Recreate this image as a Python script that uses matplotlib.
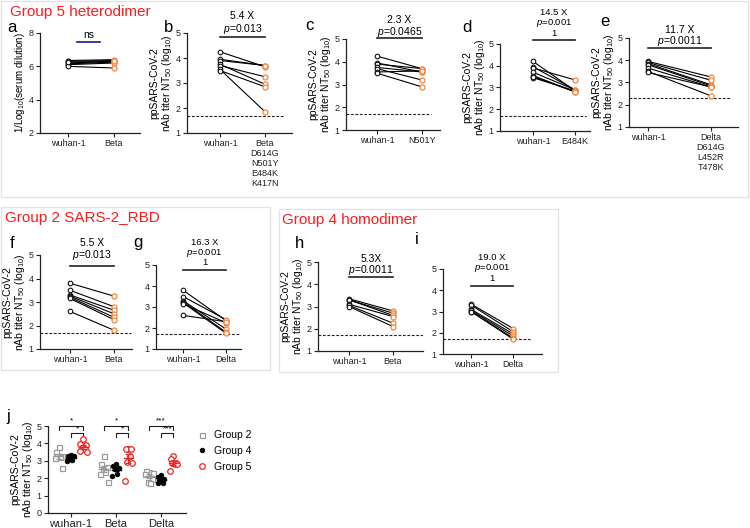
import numpy as np
import matplotlib
matplotlib.use("Agg")
import matplotlib.pyplot as plt
from matplotlib.patches import Rectangle
from matplotlib.lines import Line2D
from matplotlib.transforms import blended_transform_factory

plt.rcParams['font.family'] = ['Liberation Sans', 'DejaVu Sans']
plt.rcParams['mathtext.fontset'] = 'custom'
plt.rcParams['mathtext.rm'] = 'Liberation Sans'
plt.rcParams['mathtext.it'] = 'Liberation Sans:italic'

# ---------------- data ----------------
a_wuhan = [6.35, 6.3, 6.2, 6.15, 6.1, 6.0, 6.25]
a_beta = [6.4, 6.35, 6.3, 6.25, 6.2, 5.9, 6.3]

b_wuhan = [4.25, 3.95, 3.9, 3.75, 3.7, 3.55, 3.5]
b_beta = [3.65, 3.7, 3.7, 2.95, 3.25, 1.85, 2.85]

c_wuhan = [4.25, 3.95, 3.9, 3.75, 3.7, 3.55, 3.5]
c_n501y = [3.7, 3.55, 3.7, 3.55, 3.2, 3.6, 2.9]

d_wuhan = [4.2, 3.95, 3.9, 3.7, 3.55, 3.45, 3.5]
d_e484k = [2.85, 2.9, 3.35, 2.9, 2.8, 2.85, 2.8]

e_wuhan = [3.95, 3.9, 3.85, 3.8, 3.65, 3.5, 3.45]
e_delta = [3.25, 3.1, 2.9, 2.85, 2.8, 2.4, 2.8]

f_wuhan = [3.8, 3.5, 3.3, 3.25, 3.2, 3.15, 2.6]
f_beta = [3.25, 2.8, 2.65, 2.5, 2.35, 2.25, 1.8]

g_wuhan = [3.8, 3.5, 3.3, 3.25, 3.2, 3.15, 2.6]
g_delta = [2.35, 2.4, 1.95, 1.8, 1.75, 2.25, 2.3]

h_wuhan = [3.35, 3.3, 3.3, 3.1, 3.05, 3.0]
h_beta = [2.8, 2.7, 2.6, 2.55, 2.25, 2.1]

i_wuhan = [3.35, 3.3, 3.1, 3.05, 3.0, 3.0]
i_delta = [2.2, 2.05, 1.95, 1.85, 1.75, 1.7]

fold_labels = {'b': '5.4 X', 'c': '2.3 X', 'd': '14.5 X', 'e': '11.7 X',
               'f': '5.5 X', 'g': '16.3 X', 'h': '5.3X', 'i': '19.0 X'}
p_labels = {'b': '0.013', 'c': '0.0465', 'd': '0.001', 'e': '0.0011',
            'f': '0.013', 'g': '0.001', 'h': '0.0011', 'i': '0.001'}

j_categories = ['wuhan-1', 'Beta', 'Delta']
j_group2 = [f_wuhan, f_beta, g_delta]
j_group4 = [h_wuhan, h_beta, i_delta]
j_group5 = [b_wuhan, b_beta, e_delta]
j_sig_outer = ['*', '*', '***']
j_sig_inner = ['*', '*', '***']
j_legend = ['Group 2', 'Group 4', 'Group 5']

detection_limit = 1.7
detection_limit_e = 2.3

# ---------------- layout ----------------
W, H = 750, 528
fig = plt.figure(figsize=(W / 100, H / 100), dpi=100)

ORANGE = '#f4863a'
AXC = '#222222'


def axpos(x0, x1, ytop, ybot):
    return [x0 / W, 1 - ybot / H, (x1 - x0) / W, (ybot - ytop) / H]


def fx(x):
    return x / W


def fy(y):
    return 1 - y / H


# group boxes
for (x0, y0, x1, y1) in [(1, 1, 748, 197), (1, 207, 270, 370), (279, 209, 558, 372)]:
    fig.add_artist(Rectangle((fx(x0), fy(y1)), fx(x1 - x0), (y1 - y0) / H,
                             transform=fig.transFigure, fill=False,
                             edgecolor='#e2e2e2', lw=0.9))

fig.text(fx(10), fy(12), 'Group 5 heterodimer', color='#ff1a1a', fontsize=11,
         ha='left', va='center')
fig.text(fx(5), fy(218), 'Group 2 SARS-2_RBD', color='#ff1a1a', fontsize=11,
         ha='left', va='center')
fig.text(fx(282), fy(220), 'Group 4 homodimer', color='#ff1a1a', fontsize=11,
         ha='left', va='center')

YLAB = 'ppSARS-CoV-2\nnAb titer NT$_{50}$ (log$_{10}$)'


def style_ax(ax):
    for s in ['top', 'right']:
        ax.spines[s].set_visible(False)
    for s in ['left', 'bottom']:
        ax.spines[s].set_color(AXC)
        ax.spines[s].set_linewidth(0.9)
    ax.tick_params(axis='both', length=3, width=0.8, colors=AXC, labelsize=6.5, pad=1.5)
    ax.patch.set_alpha(0)


def paired_panel(key, pos, xlim, cats, wuhan, variant, ylim=(1, 5),
                 yticks=(1, 2, 3, 4, 5), ylabel=YLAB, dl=detection_limit,
                 letter_xy=None, fold_y=None, extra_one=False, var_color=ORANGE,
                 ann=True, dl_xmax=0.92, ylabel_fs=7.5):
    ax = fig.add_axes(axpos(*pos))
    style_ax(ax)
    for w, v in zip(wuhan, variant):
        ax.plot([0, 1], [w, v], color='black', lw=0.8, zorder=2)
    ax.plot(np.zeros(len(wuhan)), wuhan, 'o', mfc='white', mec='#111111', ms=3.3,
            mew=0.8, zorder=3, clip_on=False)
    ax.plot(np.ones(len(variant)), variant, 'o', mfc='white', mec=var_color, ms=3.6,
            mew=0.9, zorder=3, clip_on=False)
    if dl is not None:
        ax.axhline(dl, xmin=0, xmax=dl_xmax, color='#222222', lw=0.8, ls=(0, (2.5, 1.5)))
    ax.set_xlim(*xlim)
    ax.set_ylim(*ylim)
    ax.set_yticks(list(yticks))
    ax.set_xticks([0, 1])
    ax.set_xticklabels(cats, fontsize=6.5, linespacing=1.15)
    if ylabel:
        ax.set_ylabel(ylabel, fontsize=ylabel_fs, labelpad=1.5, linespacing=1.0)
    if letter_xy:
        fig.text(fx(letter_xy[0]), fy(letter_xy[1]), key, fontsize=12, ha='center', va='center')
    if ann and fold_y is not None:
        tr = blended_transform_factory(ax.transData, fig.transFigure)
        y_fold, y_p, y_bar = fold_y[:3]
        fs = 6.8 if extra_one else 7.5
        ax.text(0.5, fy(y_fold), fold_labels[key], transform=tr, ha='center', va='center', fontsize=fs)
        ax.text(0.5, fy(y_p), '$\\it{p}$=' + p_labels[key], transform=tr, ha='center', va='center', fontsize=fs)
        if extra_one:
            ax.text(0.5, fy(fold_y[3]), '1', transform=tr, ha='center', va='center', fontsize=fs)
        ax.add_line(Line2D([0, 1], [fy(y_bar)] * 2, transform=tr, color='#222222', lw=1.2, clip_on=False))
    return ax


# panel a
ax_a = paired_panel('a', (40, 140, 33, 133), (-0.61, 1.57), ['wuhan-1', 'Beta'],
                    a_wuhan, a_beta, ylim=(2, 8), yticks=(2, 4, 6, 8),
                    ylabel='1/Log$_{10}$(serum dilution)', dl=None, letter_xy=(12, 27),
                    ann=False, ylabel_fs=7)
tr = blended_transform_factory(ax_a.transData, fig.transFigure)
ax_a.add_line(Line2D([0.2, 0.7], [fy(42)] * 2, transform=tr, color='#1a1a8c', lw=1.2, clip_on=False))
ax_a.text(0.45, fy(35), 'ns', transform=tr, ha='center', va='center', fontsize=7.5)

paired_panel('b', (187, 292, 33, 133), (-0.73, 1.6),
             ['wuhan-1', 'Beta\nD614G\nN501Y\nE484K\nK417N'],
             b_wuhan, b_beta, letter_xy=(169, 27), fold_y=(16, 29, 37), dl_xmax=0.92)
paired_panel('c', (346, 440, 39, 130), (-0.69, 1.41), ['wuhan-1', 'N501Y'],
             c_wuhan, c_n501y, letter_xy=(309, 26), fold_y=(20, 32, 38), dl_xmax=0.9)
paired_panel('d', (500, 590, 44, 131), (-0.79, 1.36), ['wuhan-1', 'E484K'],
             d_wuhan, d_e484k, letter_xy=(467, 27), fold_y=(12.5, 23, 40, 33), extra_one=True,
             dl_xmax=0.95)
paired_panel('e', (629, 738, 38, 127), (-0.3, 1.43),
             ['wuhan-1', 'Delta\nD614G\nL452R\nT478K'],
             e_wuhan, e_delta, dl=detection_limit_e, letter_xy=(605, 22), fold_y=(30, 41, 48),
             dl_xmax=0.93)

paired_panel('f', (40, 132, 255, 349), (-0.68, 1.41), ['wuhan-1', 'Beta'],
             f_wuhan, f_beta, letter_xy=(12, 243), fold_y=(243, 255, 266), dl_xmax=0.99)
paired_panel('g', (156, 241, 265, 349), (-0.63, 1.35), ['wuhan-1', 'Delta'],
             g_wuhan, g_delta, ylabel=None, letter_xy=(138, 243), fold_y=(242.5, 253, 270, 262.5),
             extra_one=True, dl_xmax=1.0)
paired_panel('h', (318, 423, 262, 351), (-0.7, 1.68), ['wuhan-1', 'Beta'],
             h_wuhan, h_beta, letter_xy=(300, 243), fold_y=(259, 270, 277), dl_xmax=1.0)
paired_panel('i', (443, 542, 269, 354), (-0.67, 1.69), ['wuhan-1', 'Delta'],
             i_wuhan, i_delta, ylabel=None, letter_xy=(417, 240), fold_y=(257, 268, 286, 278.5),
             extra_one=True, dl_xmax=0.88)

# ---------------- panel j ----------------
axj = fig.add_axes(axpos(48, 186, 426, 513))
style_ax(axj)
axj.set_ylim(0, 5)
axj.set_yticks([0, 1, 2, 3, 4, 5])
axj.set_xlim(-0.51, 2.55)
axj.set_xticks(range(len(j_categories)))
axj.set_xticklabels(j_categories, fontsize=8)
axj.tick_params(axis='x', length=3, labelsize=8)
axj.set_ylabel(YLAB, fontsize=7.5, labelpad=1.5, linespacing=1.0)
fig.text(fx(8), fy(417), 'j', fontsize=12, ha='center', va='center')

group_styles = [
    dict(marker='s', mfc='white', mec='#9a9a9a', ms=3.6, mew=0.9, ecol='#9a9a9a'),
    dict(marker='o', mfc='black', mec='black', ms=3.3, mew=0.6, ecol='black'),
    dict(marker='o', mfc='white', mec='#ee2222', ms=4.0, mew=0.9, ecol='#ee2222'),
]
offsets = [-0.27, 0.0, 0.27]
jit_pattern = np.array([0.0, -0.06, 0.06, -0.03, 0.03, -0.08, 0.08])
for gi, (gdata, st) in enumerate(zip([j_group2, j_group4, j_group5], group_styles)):
    for ci, vals in enumerate(gdata):
        vals = np.asarray(vals)
        xc = ci + offsets[gi]
        xs = xc + jit_pattern[:len(vals)]
        axj.plot(xs, vals, linestyle='none', marker=st['marker'], mfc=st['mfc'],
                 mec=st['mec'], ms=st['ms'], mew=st['mew'], zorder=3)
        m = vals.mean()
        sem = vals.std(ddof=1) / np.sqrt(len(vals))
        axj.plot([xc - 0.1, xc + 0.1], [m, m], color=st['ecol'], lw=1.0, zorder=4)
        axj.errorbar([xc], [m], yerr=[sem], color=st['ecol'], capsize=2, lw=0.9,
                     capthick=0.9, zorder=4)

for ci in range(len(j_categories)):
    xa, xb, xcc = ci + offsets[0], ci + offsets[2], ci + offsets[1]
    axj.plot([xa, xa, xb, xb], [4.78, 5.02, 5.02, 4.78], color=AXC, lw=0.8, clip_on=False)
    axj.text((xa + xb) / 2, 5.1, j_sig_outer[ci], ha='center', va='bottom', fontsize=6)
    axj.plot([xcc, xcc, xb, xb], [4.36, 4.6, 4.6, 4.36], color=AXC, lw=0.8, clip_on=False)
    axj.text((xcc + xb) / 2, 4.62, j_sig_inner[ci], ha='center', va='bottom', fontsize=6)

handles = [Line2D([], [], linestyle='none', marker=st['marker'], mfc=st['mfc'],
                  mec=st['mec'], ms=st['ms'], mew=st['mew']) for st in group_styles]
fig.legend(handles, j_legend, loc='upper left', bbox_to_anchor=(fx(193), fy(426)),
           frameon=False, fontsize=7.5, handlelength=1.0, handletextpad=0.6,
           labelspacing=0.55, borderaxespad=0)

fig.savefig('out.png', dpi=100)
